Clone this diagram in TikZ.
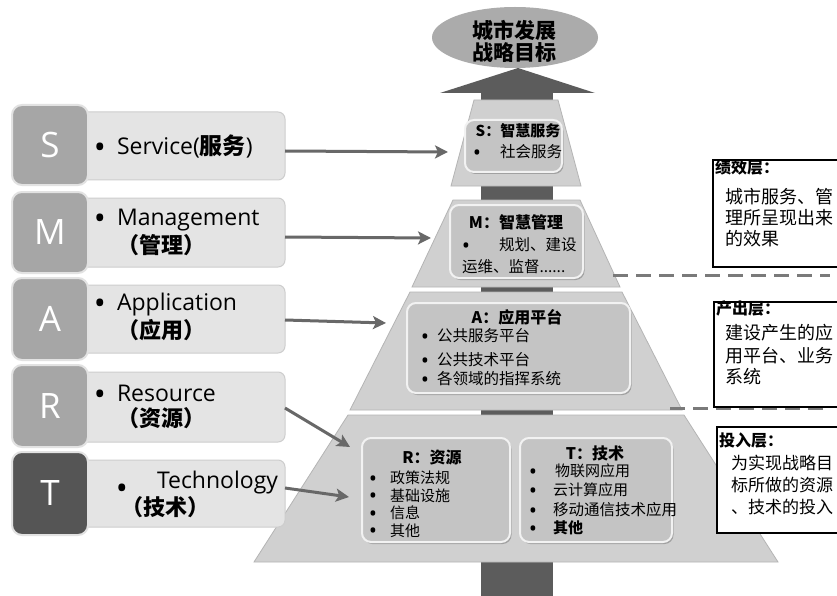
\documentclass[tikz,border=0pt]{standalone}
\usepackage{fontspec}
\setmainfont{Open Sans}
\newfontfamily\cjk{Noto Sans CJK SC}
\usetikzlibrary{arrows.meta,shapes.geometric,shadows}
\definecolor{trapc}{HTML}{D0D0D0}
\definecolor{trapedge}{HTML}{B4B4B4}
\definecolor{shaftc}{HTML}{5C5C5C}
\definecolor{ellc}{HTML}{ABABAB}
\definecolor{lboxc}{HTML}{E4E4E4}
\definecolor{lboxedge}{HTML}{CDCDCD}
\definecolor{letterc}{HTML}{A6A6A6}
\definecolor{letterdk}{HTML}{555555}
\definecolor{letteredge}{HTML}{E2E2E2}
\definecolor{innerc}{HTML}{C4C4C4}
\definecolor{inneredge}{HTML}{F2F2F2}
\definecolor{arrowc}{HTML}{686868}
\definecolor{sepc}{HTML}{7A7A7A}
\begin{document}
\begin{tikzpicture}[x=1pt,y=-1pt,
  every node/.style={inner sep=0pt,outer sep=0pt},
  trap/.style={fill=trapc, draw=trapedge, line width=0.8pt},
  lbox/.style={rounded corners=7pt, fill=lboxc, draw=lboxedge, line width=1pt, anchor=west, minimum width=205pt},
  letter/.style={rounded corners=10pt, fill=letterc, draw=letteredge, line width=2pt, minimum width=76pt, minimum height=80pt, text=white, font=\fontsize{35}{35}\selectfont},
  lat/.style={anchor=west, font=\fontsize{23}{23}\selectfont, text height=16.5pt, text depth=0pt},
  lcj/.style={anchor=west, font=\cjk\bfseries\fontsize{22}{22}\selectfont},
  lbul/.style={font=\fontsize{32}{32}\selectfont, anchor=base, yshift=-12.2pt},
  inbox/.style={rounded corners=9pt, fill=innerc, draw=inneredge, line width=2pt, drop shadow={shadow xshift=1.5pt,shadow yshift=-2pt,fill=black!55}},
  ititle/.style={font=\cjk\bfseries\fontsize{16}{16}\selectfont},
  itext/.style={anchor=west, font=\cjk\fontsize{15.5}{15.5}\selectfont},
  stext/.style={anchor=west, font=\cjk\fontsize{15}{15}\selectfont, text height=12.5pt, text depth=1.5pt},
  ibul/.style={font=\fontsize{22}{22}\selectfont, anchor=base, yshift=-8.4pt},
  rbox/.style={draw=black, line width=1.5pt, fill=white, anchor=north west, minimum width=130pt},
  rtitle/.style={anchor=west, font=\cjk\bfseries\fontsize{16}{16}\selectfont},
  rtext/.style={anchor=west, font=\cjk\fontsize{18}{18}\selectfont},
  conn/.style={draw=arrowc, line width=3pt, -{Stealth[length=13pt,width=13pt,inset=3pt]}},
  sepline/.style={draw=sepc, line width=3pt, dash pattern=on 15pt off 8pt}
]
\useasboundingbox (0,0) rectangle (837,596);
\fill[white] (0,0) rectangle (837,596);

% central shaft and arrow head
\fill[shaftc] (481,90) rectangle (553,596);
\fill[shaftc] (440,93) -- (518,68) -- (595,93) -- cycle;
\node[ellipse, fill=ellc, minimum width=166pt, minimum height=61pt] (goal) at (515,37.5) {};
\node[font=\cjk\bfseries\fontsize{21}{22}\selectfont, align=center] (goaltxt) at (514.5,41) {城市发展\\战略目标};

% pyramid layers
\filldraw[trap] (474,100) -- (558,100) -- (581,186) -- (451,186) -- cycle;
\filldraw[trap] (453,200) -- (580,200) -- (620,287) -- (412,287) -- cycle;
\filldraw[trap] (410,292) -- (622,292) -- (682,410) -- (350,410) -- cycle;
\filldraw[trap] (348,415) -- (684,415) -- (778,562) -- (254,562) -- cycle;

% inner boxes
\node[inbox, minimum width=97pt, minimum height=52pt] (sin) at (513.5,146) {};
\node[ititle, font=\cjk\bfseries\fontsize{15}{15}\selectfont] (sint) at (518,131) {S：智慧服务};
\node[ibul] (sinb) at (477,152) {•};
\node[itext] (sin1) at (500,152) {社会服务};

\node[inbox, minimum width=133pt, minimum height=73pt] (min) at (516.5,241.5) {};
\node[ititle] (mint) at (516,222) {M：智慧管理};
\node[ibul] (minb) at (466,245) {•};
\node[itext] (min1) at (499,245) {规划、建设};
\node[itext] (min2) at (462,267) {运维、监督......};

\node[inbox, minimum width=223pt, minimum height=90pt] (ain) at (518.5,348) {};
\node[ititle] (aint) at (517,317) {A：应用平台};
\node[ibul] (ainb1) at (425,336) {•};
\node[itext] (ain1) at (437,336) {公共服务平台};
\node[ibul] (ainb2) at (425,360) {•};
\node[itext] (ain2) at (437,360) {公共技术平台};
\node[ibul] (ainb3) at (425,379) {•};
\node[itext] (ain3) at (437,379) {各领域的指挥系统};

\node[inbox, minimum width=148pt, minimum height=104pt] (rin) at (436,490) {};
\node[ititle] (rint) at (432,457) {R：资源};
\node[ibul] (rinb1) at (373,478) {•};
\node[stext] (rin1) at (390,478) {政策法规};
\node[ibul] (rinb2) at (373,495.5) {•};
\node[stext] (rin2) at (390,495.5) {基础设施};
\node[ibul] (rinb3) at (373,513) {•};
\node[stext] (rin3) at (390,513) {信息};
\node[ibul] (rinb4) at (373,530.5) {•};
\node[stext] (rin4) at (390,530.5) {其他};

\node[inbox, minimum width=152pt, minimum height=104pt] (tin) at (596,490) {};
\node[ititle] (tint) at (595,453) {T：技术};
\node[ibul] (tinb1) at (533,471) {•};
\node[stext] (tin1) at (555,471) {物联网应用};
\node[ibul] (tinb2) at (533,490) {•};
\node[stext] (tin2) at (553,490) {云计算应用};
\node[ibul] (tinb3) at (533,510) {•};
\node[stext, font=\cjk\fontsize{15.5}{15.5}\selectfont] (tin3) at (553,510) {移动通信技术应用};
\node[ibul] (tinb4) at (533,528) {•};
\node[stext, font=\cjk\bfseries\fontsize{15}{15}\selectfont] (tin4) at (553,528) {其他};

% separators
\coordinate (sep1a) at (613,275);
\coordinate (sep1b) at (830,275);
\coordinate (sep2a) at (670,408);
\coordinate (sep2b) at (830,408);
\draw[sepline] (sep1a) -- (sep1b);
\draw[sepline] (sep2a) -- (sep2b);

% right boxes
\node[rbox, minimum height=107pt] (perf) at (713,160) {};
\node[rtitle] at (715,167) {绩效层：};
\node[rtext] at (725,197) {城市服务、管};
\node[rtext] at (725,218) {理所呈现出来};
\node[rtext] at (725,239) {的效果};

\node[rbox, minimum height=105pt] (outp) at (714,302) {};
\node[rtitle] at (716,308) {产出层：};
\node[rtext] at (725,333) {建设产生的应};
\node[rtext] at (725,356) {用平台、业务};
\node[rtext] at (725,377) {系统};

\node[rbox, minimum height=106pt] (inp) at (717,427) {};
\node[rtitle] at (719,440) {投入层：};
\node[rtext, font=\cjk\fontsize{17}{17}\selectfont] at (731,463) {为实现战略目};
\node[rtext, font=\cjk\fontsize{17}{17}\selectfont] at (731,485) {标所做的资源};
\node[rtext, font=\cjk\fontsize{17}{17}\selectfont] at (731,507) {、技术的投入};

% left SMART boxes
\node[lbox, minimum height=68pt] (sbox) at (80,146) {};
\node[lbox, minimum height=69pt] (mbox) at (80,232.5) {};
\node[lbox, minimum height=68pt] (abox) at (80,319) {};
\node[lbox, minimum height=70pt] (rbx) at (80,407) {};
\node[lbox, minimum height=67pt] (tbox) at (80,493.5) {};

\node[letter] (sl) at (50,145) {S};
\node[letter, minimum height=81pt] (ml) at (50,232.5) {M};
\node[letter, minimum height=82pt] (al) at (50,319) {A};
\node[letter, minimum height=82pt] (rl) at (50,406) {R};
\node[letter, fill=letterdk, minimum height=83pt] (tl) at (50,493.5) {T};

\node[lbul] at (100,146) {•};
\node[lat] at (117,146) {Service(\cjk\bfseries 服务\normalfont)};
\node[lbul] at (100,217) {•};
\node[lat] at (117,217) {Management};
\node[lcj] at (117,245) {（管理）};
\node[lbul] at (100,302) {•};
\node[lat] at (117,302) {Application};
\node[lcj] at (117,330) {（应用）};
\node[lbul] at (100,393) {•};
\node[lat] at (117,393) {Resource};
\node[lcj] at (117,418) {（资源）};
\node[lbul] at (122,487) {•};
\node[lat] at (157,480) {Technology};
\node[lcj] at (121,507) {（技术）};

% connectors
\coordinate (sT) at (448,152);
\coordinate (mT) at (431,238);
\coordinate (aT) at (386,323);
\coordinate (rT) at (350,447);
\coordinate (tT) at (349,497);
\draw[conn] ([yshift=-5pt]sbox.east) -- (sT);
\draw[conn] ([yshift=-4.5pt]mbox.east) -- (mT);
\draw[conn] ([yshift=-1pt]abox.east) -- (aT);
\draw[conn] ([yshift=-1pt]rbx.east) -- (rT);
\draw[conn] ([yshift=5.5pt]tbox.east) -- (tT);
\end{tikzpicture}
\end{document}
